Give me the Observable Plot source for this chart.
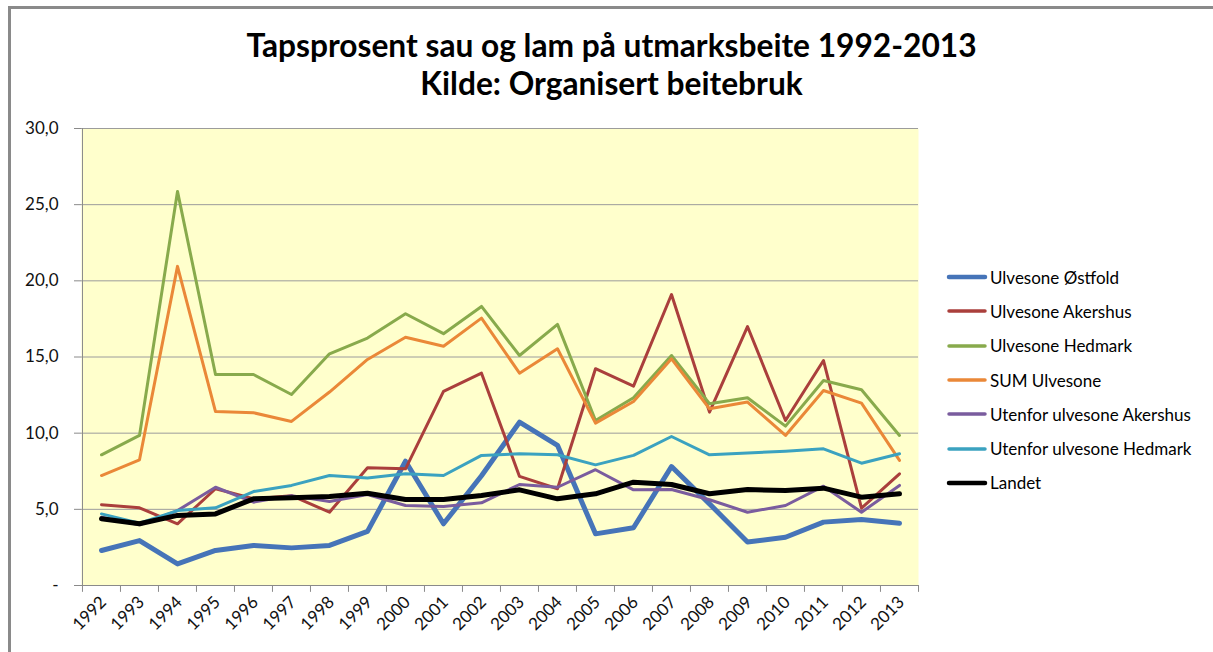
<!DOCTYPE html>
<html>
<head>
<meta charset="utf-8">
<script src="https://cdn.jsdelivr.net/npm/d3@7"></script>
<script src="https://cdn.jsdelivr.net/npm/@observablehq/plot@0.6"></script>
<style>
  html, body { margin: 0; padding: 0; background: #fff; }
  #wrap { position: relative; width: 1213px; height: 652px; overflow: hidden; font-family: Lato, "Noto Sans", sans-serif; }
  #border { position: absolute; left: 8px; top: 6px; width: 1300px; height: 800px; border-left: 3px solid #8a8a8a; border-top: 3px solid #8a8a8a; box-sizing: border-box; }
  #title { position: absolute; left: 0; width: 1223px; top: 26px; text-align: center; font-weight: bold; font-size: 31.7px; line-height: 38px; color: #000; }
  #chart { position: absolute; left: 0; top: 110px; }
  #legend { position: absolute; left: 946px; top: 260px; }
  .row { display: flex; align-items: center; height: 34.3px; font-size: 17px; color: #000; }
  .row svg { margin-right: 2px; }
  #chart svg text { font-size: 17px; }
</style>
</head>
<body>
<div id="wrap">
  <div id="border"></div>
  <div id="title">Tapsprosent sau og lam på utmarksbeite 1992-2013<br>Kilde: Organisert beitebruk</div>
  <div id="chart"></div>
  <div id="legend"></div>
</div>
<script>
const years = [1992,1993,1994,1995,1996,1997,1998,1999,2000,2001,2002,2003,2004,2005,2006,2007,2008,2009,2010,2011,2012,2013];
const seriesNames = ["Ulvesone Østfold","Ulvesone Akershus","Ulvesone Hedmark","SUM Ulvesone","Utenfor ulvesone Akershus","Utenfor ulvesone Hedmark","Landet"];
const seriesColors = ["#4674B8","#AA3F3C","#88AA4C","#EA8838","#7A5C9E","#3BA2C0","#000000"];
const seriesWidths = [5, 3, 3, 3, 3, 3, 5];

const ulvesoneOstfold  = [2.3,2.95,1.42,2.3,2.63,2.47,2.63,3.55,8.16,4.05,7.2,10.72,9.2,3.39,3.79,7.81,5.36,2.85,3.17,4.16,4.33,4.09];
const ulvesoneAkershus = [5.3,5.1,4.05,6.35,5.7,5.9,4.81,7.73,7.66,12.74,13.94,7.16,6.35,14.23,13.09,19.1,11.38,17.0,10.83,14.77,5.08,7.33];
const ulvesoneHedmark  = [8.58,9.85,25.87,13.85,13.85,12.54,15.21,16.24,17.84,16.53,18.32,15.1,17.14,10.83,12.32,15.1,11.93,12.32,10.46,13.46,12.85,9.85];
const sumUlvesone      = [7.22,8.25,20.95,11.42,11.34,10.77,12.7,14.84,16.3,15.71,17.55,13.94,15.54,10.66,12.08,14.88,11.6,12.04,9.85,12.8,11.97,8.21];
const utenforAkershus  = [4.48,3.98,4.92,6.45,5.47,5.9,5.51,5.97,5.25,5.19,5.43,6.63,6.45,7.6,6.28,6.3,5.63,4.81,5.25,6.52,4.81,6.57];
const utenforHedmark   = [4.7,4.09,4.92,5.1,6.17,6.57,7.22,7.05,7.33,7.22,8.54,8.65,8.58,7.92,8.54,9.78,8.58,8.69,8.82,8.97,8.03,8.65];
const landet           = [4.38,4.05,4.6,4.7,5.69,5.76,5.84,6.06,5.65,5.65,5.91,6.28,5.69,6.02,6.78,6.63,6.02,6.3,6.24,6.39,5.8,6.02];

const yTicks = [0,5,10,15,20,25,30];

const seriesValues = [ulvesoneOstfold, ulvesoneAkershus, ulvesoneHedmark, sumUlvesone, utenforAkershus, utenforHedmark, landet];

const W = 920, ML = 81, MR = 2;
const step = (W - ML - MR) / years.length;

const lineMarks = seriesNames.map((name, i) =>
  Plot.line(years.map((yr, j) => ({year: yr, value: seriesValues[i][j]})), {
    x: "year", y: "value", stroke: seriesColors[i], strokeWidth: seriesWidths[i], strokeLinejoin: "round"
  })
);

const chart = Plot.plot({
  width: W, height: 532,
  marginLeft: ML, marginRight: MR, marginTop: 18, marginBottom: 57,
  style: {background: "transparent", fontFamily: "Lato, 'Noto Sans', sans-serif", fontSize: "17px", color: "#000"},
  x: {type: "point", domain: years, padding: 0.5, label: null},
  y: {domain: [0, 30], label: null},
  marks: [
    Plot.frame({fill: "#FFFFCC", stroke: null}),
    Plot.gridY(yTicks, {stroke: "#9c9c9c", strokeOpacity: 1}),
    Plot.ruleY([0], {stroke: "#8a8a8a"}),
    Plot.ruleX([years[0]], {dx: -step / 2, y1: 0, y2: 30, stroke: "#8a8a8a"}),
    Plot.ruleX(years, {dx: -step / 2, y1: 0, y2: -0.45, stroke: "#8a8a8a"}),
    Plot.ruleX([years[years.length - 1]], {dx: step / 2, y1: 0, y2: -0.45, stroke: "#8a8a8a"}),
    Plot.axisY(yTicks, {tickSize: 7, tickPadding: 16, stroke: "#8a8a8a", fill: "#111",
      tickFormat: d => d === 0 ? "-" : d.toFixed(1).replace(".", ",")}),
    Plot.axisX(years, {tickSize: 0, tickRotate: -45, tickPadding: 14, dx: 2, fill: "#111",
      tickFormat: d => String(d)}),
    ...lineMarks
  ]
});
document.getElementById("chart").appendChild(chart);

const legend = document.getElementById("legend");
seriesNames.forEach((name, i) => {
  const row = document.createElement("div");
  row.className = "row";
  const ns = "http://www.w3.org/2000/svg";
  const svg = document.createElementNS(ns, "svg");
  svg.setAttribute("width", 42); svg.setAttribute("height", 10);
  const ln = document.createElementNS(ns, "line");
  ln.setAttribute("x1", 3); ln.setAttribute("x2", 39); ln.setAttribute("y1", 5); ln.setAttribute("y2", 5);
  ln.setAttribute("stroke", seriesColors[i]); ln.setAttribute("stroke-width", seriesWidths[i] === 5 ? 4.5 : 3.5);
  ln.setAttribute("stroke-linecap", "round");
  svg.appendChild(ln);
  row.appendChild(svg);
  const span = document.createElement("span");
  span.textContent = name;
  row.appendChild(span);
  legend.appendChild(row);
});
</script>
</body>
</html>
